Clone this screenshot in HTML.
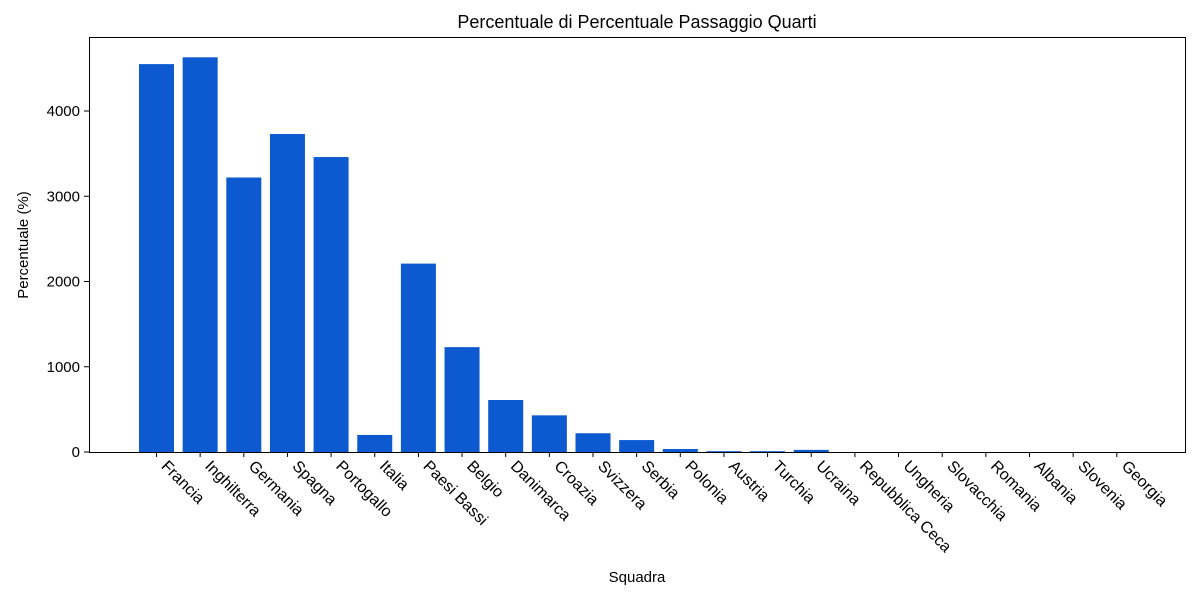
<!DOCTYPE html>
<html><head><meta charset="utf-8"><style>
body{margin:0;background:#fff;}
svg text{font-family:"Liberation Sans",sans-serif;fill:#000;}
</style></head><body>
<svg width="1200" height="600" xmlns="http://www.w3.org/2000/svg">
<rect width="1200" height="600" fill="#fff"/>
<text x="637" y="28" font-size="18" text-anchor="middle">Percentuale di Percentuale Passaggio Quarti</text>
<g id="bars" fill="#0d5ad0"></g>
<rect x="89.5" y="37.5" width="1096" height="415" fill="none" stroke="#000" stroke-width="1"/>
<g id="yt" font-size="15"></g>
<g id="xt" font-size="16"></g>
<text x="637" y="582" font-size="15" text-anchor="middle">Squadra</text>
<text transform="translate(28,245) rotate(-90)" font-size="15" text-anchor="middle">Percentuale (%)</text>
</svg>
<script>
var names=["Francia","Inghilterra","Germania","Spagna","Portogallo","Italia","Paesi Bassi","Belgio","Danimarca","Croazia","Svizzera","Serbia","Polonia","Austria","Turchia","Ucraina","Repubblica Ceca","Ungheria","Slovacchia","Romania","Albania","Slovenia","Georgia"];
var vals=[4550,4630,3220,3730,3460,200,2210,1230,610,430,220,140,35,10,10,25,0,0,0,0,0,0,0];
var ns="http://www.w3.org/2000/svg",b=document.getElementById("bars"),xt=document.getElementById("xt"),yt=document.getElementById("yt");
var s=85.25;
names.forEach(function(n,i){var c=156.5+i*43.65;
var r=document.createElementNS(ns,"rect");var h=vals[i]*s/1000;
r.setAttribute("x",c-17.5);r.setAttribute("y",452-h);r.setAttribute("width",35);r.setAttribute("height",h);b.appendChild(r);
var l=document.createElementNS(ns,"line");l.setAttribute("x1",c);l.setAttribute("x2",c);l.setAttribute("y1",452);l.setAttribute("y2",457);l.setAttribute("stroke","#000");xt.appendChild(l);
var t=document.createElementNS(ns,"text");t.setAttribute("transform","translate("+(c+4)+",467) rotate(45)");t.textContent=n;xt.appendChild(t);});
for(var v=0;v<=4000;v+=1000){var y=452-v*s/1000;
var l=document.createElementNS(ns,"line");l.setAttribute("x1",84);l.setAttribute("x2",89);l.setAttribute("y1",y);l.setAttribute("y2",y);l.setAttribute("stroke","#000");yt.appendChild(l);
var t=document.createElementNS(ns,"text");t.setAttribute("x",80);t.setAttribute("y",y+5);t.setAttribute("text-anchor","end");t.textContent=v;yt.appendChild(t);}
</script>
</body></html>
